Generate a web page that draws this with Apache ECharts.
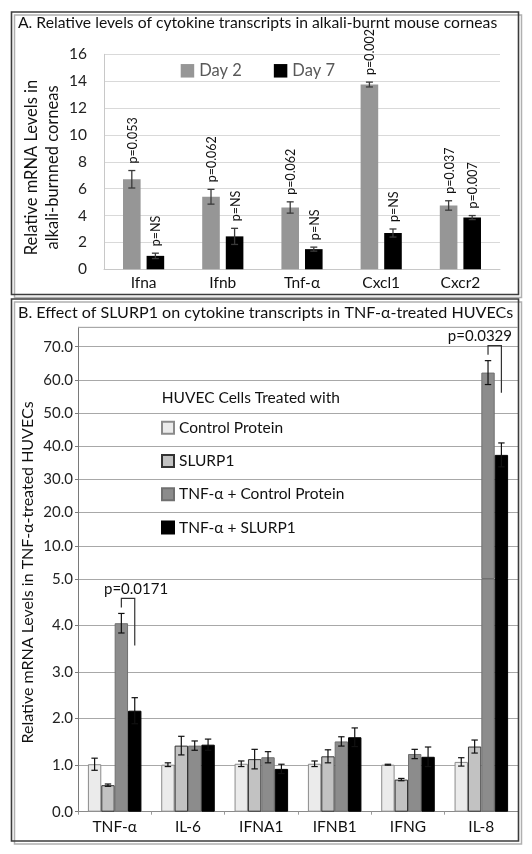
<!DOCTYPE html>
<html><head><meta charset="utf-8">
<script src="https://cdn.jsdelivr.net/npm/echarts@6/dist/echarts.min.js"></script>
<style>html,body{margin:0;padding:0;background:#fff}#c{width:532px;height:854px}</style>
</head><body><div id="c"></div>
<script>
const FONT = 'Lato, "Open Sans", sans-serif';

// ---------- Panel A data ----------
const catsA = ['Ifna', 'Ifnb', 'Tnf-\u03b1', 'Cxcl1', 'Cxcr2'];
const seriesA = ['Day 2', 'Day 7'];
const day2 = [6.7, 5.4, 4.6, 13.75, 4.75];
const day2Err = [0.65, 0.55, 0.42, 0.18, 0.35];
const day7 = [1.0, 2.45, 1.5, 2.7, 3.85];
const day7Err = [0.2, 0.6, 0.15, 0.3, 0.15];
const day2P = ['p=0.053', 'p=0.062', 'p=0.062', 'p=0.002', 'p=0.037'];
const day7P = ['p=NS', 'p=NS', 'p=NS', 'p=NS', 'p=0.007'];
const ticksA = [0, 2, 4, 6, 8, 10, 12, 14, 16];

// ---------- Panel B data ----------
const catsB = ['TNF-\u03b1', 'IL-6', 'IFNA1', 'IFNB1', 'IFNG', 'IL-8'];
const seriesB = ['Control Protein', 'SLURP1', 'TNF-\u03b1 + Control Protein', 'TNF-\u03b1 + SLURP1'];
const ctrl = [1.02, 1.01, 1.03, 1.03, 1.01, 1.07];
const ctrlErr = [0.13, 0.04, 0.06, 0.06, 0.01, 0.09];
const slurp = [0.57, 1.42, 1.13, 1.19, 0.69, 1.40];
const slurpErr = [0.025, 0.2, 0.21, 0.14, 0.025, 0.14];
const tnfCtrl = [4.05, 1.42, 1.17, 1.51, 1.24, 62.2];
const tnfCtrlErr = [0.21, 0.1, 0.12, 0.1, 0.1, 3.6];
const tnfSlurp = [2.17, 1.44, 0.92, 1.6, 1.18, 37.4];
const tnfSlurpErr = [0.28, 0.12, 0.1, 0.2, 0.21, 3.6];
const ticksBLow = [0, 1, 2, 3, 4, 5];
const ticksBHigh = [10, 20, 30, 40, 50, 60, 70];
const bracketCats = [0, 5];
const bracketP = ['p=0.0171', 'p=0.0329'];

const valsB = [ctrl, slurp, tnfCtrl, tnfSlurp];
const errsB = [ctrlErr, slurpErr, tnfCtrlErr, tnfSlurpErr];
const BREAK = ticksBLow[ticksBLow.length - 1];

// ---------- layout ----------
const GA = {left: 104, top: 54.3, width: 396, height: 215};
const GBlow = {left: 78, top: 579, width: 440, height: 232.7};
const GBup = {left: 78, top: 327.3, width: 440, height: 251.7};
const upPxPerUnit = (GBlow.top - 346.7) / 70;
const upMax = GBup.height / upPxPerUnit;

const CATGAP_A = 0.48, GAP_A = 0.34, CATGAP_B = 0.27, GAP_B = 0;
const colorsA = ['#969696', '#000000'];
const colorsB = ['#ebebeb', '#c2c2c2', '#8c8c8c', '#000000'];
const bordersB = ['#8a8a8a', '#333333', '#707070', '#000000'];

function barOffset(band, n, catGap, gap, i) {
  const w = band * (1 - catGap) / (n + (n - 1) * gap);
  const total = n * w + (n - 1) * gap * w;
  return -total / 2 + i * w * (1 + gap) + w / 2;
}

function makeErrSeries(items, labels, opts) {
  return {
    type: 'custom', xAxisIndex: opts.axis, yAxisIndex: opts.axis, z: 5, silent: true,
    data: items,
    encode: {x: 0, y: 1},
    renderItem: function (params, api) {
      const cat = api.value(0), val = api.value(1), err = api.value(2), idx = api.value(3);
      const band = api.size([1, 0])[0];
      const x = api.coord([cat, val])[0] + barOffset(band, opts.n, opts.catGap, opts.gap, idx);
      const yT = api.coord([cat, val + err])[1];
      const yB = api.coord([cat, val - err])[1];
      const st = {stroke: opts.color, lineWidth: opts.lw};
      const ch = [
        {type: 'line', shape: {x1: x, y1: yT, x2: x, y2: yB}, style: st},
        {type: 'line', shape: {x1: x - opts.cap, y1: yT, x2: x + opts.cap, y2: yT}, style: st},
        {type: 'line', shape: {x1: x - opts.cap, y1: yB, x2: x + opts.cap, y2: yB}, style: st}
      ];
      if (labels) {
        ch.push({type: 'text', x: x + 1, y: yT - 7, rotation: Math.PI / 2,
          style: {text: labels[params.dataIndex], textAlign: 'left', textVerticalAlign: 'middle',
            fontSize: 12.5, fontFamily: FONT, fill: '#111'}});
      }
      return {type: 'group', children: ch};
    }
  };
}

// Panel A error items
const errItemsA = [], labelsA = [];
[day2, day7].forEach(function (arr, s) {
  const e = [day2Err, day7Err][s], p = [day2P, day7P][s];
  arr.forEach(function (v, i) { errItemsA.push([i, v, e[i], s]); labelsA.push(p[i]); });
});

// Panel B error items split by axis break
const errLow = [], errUp = [];
valsB.forEach(function (arr, s) {
  arr.forEach(function (v, i) {
    (v > BREAK ? errUp : errLow).push([i, v, errsB[s][i], s]);
  });
});

function bracketSeries(axis, cats) {
  return {
    type: 'custom', xAxisIndex: axis, yAxisIndex: axis, z: 6, silent: true,
    data: cats.map(function (c) { return [c, 0]; }),
    encode: {x: 0, y: 1},
    renderItem: function (params, api) {
      const cat = api.value(0);
      const k = bracketCats.indexOf(cat);
      const band = api.size([1, 0])[0];
      const cx = api.coord([cat, 0])[0];
      const xl = cx + barOffset(band, 4, CATGAP_B, GAP_B, 2);
      const xr = cx + barOffset(band, 4, CATGAP_B, GAP_B, 3);
      const yl = api.coord([cat, tnfCtrl[cat] + tnfCtrlErr[cat]])[1];
      const yTop = yl - 15;
      const right = params.coordSys.x + params.coordSys.width - 6;
      let tx = (xl + xr) / 2 + 8, align = 'center';
      if (tx + 32 > right) { tx = right; align = 'right'; }
      return {type: 'group', children: [
        {type: 'polyline', shape: {points: [[xl, yTop + 9], [xl, yTop], [xr, yTop], [xr, yTop + 47]]},
          style: {stroke: '#333', lineWidth: 1.2, fill: null}},
        {type: 'text', x: tx, y: yTop - 9, style: {text: bracketP[k], textAlign: align,
          textVerticalAlign: 'middle', fontSize: 15, fontFamily: FONT, fill: '#111'}}
      ]};
    }
  };
}

const chart = echarts.init(document.getElementById('c'), null, {renderer: 'canvas'});

const seriesList = [];
// Panel A bars
[day2, day7].forEach(function (arr, s) {
  seriesList.push({type: 'bar', name: seriesA[s], xAxisIndex: 0, yAxisIndex: 0, data: arr,
    barCategoryGap: (CATGAP_A * 100) + '%', barGap: (GAP_A * 100) + '%',
    itemStyle: {color: colorsA[s]}});
});
seriesList.push(makeErrSeries(errItemsA, labelsA, {axis: 0, n: 2, catGap: CATGAP_A, gap: GAP_A, color: '#3a3a3a', lw: 1.3, cap: 3.5}));
// Panel B lower bars
valsB.forEach(function (arr, s) {
  seriesList.push({type: 'bar', name: seriesB[s], xAxisIndex: 1, yAxisIndex: 1, data: arr, clip: true,
    barCategoryGap: (CATGAP_B * 100) + '%', barGap: '0%',
    itemStyle: {color: colorsB[s], borderColor: bordersB[s], borderWidth: 1}});
});
// Panel B upper bars (only values above the axis break)
valsB.forEach(function (arr, s) {
  seriesList.push({type: 'bar', name: seriesB[s], xAxisIndex: 2, yAxisIndex: 2,
    data: arr.map(function (v) { return v > BREAK ? v : '-'; }),
    barCategoryGap: (CATGAP_B * 100) + '%', barGap: '0%',
    itemStyle: {color: colorsB[s], borderColor: bordersB[s], borderWidth: 1}});
});
seriesList.push(makeErrSeries(errLow, null, {axis: 1, n: 4, catGap: CATGAP_B, gap: GAP_B, color: '#111', lw: 1.2, cap: 3.2}));
seriesList.push(makeErrSeries(errUp, null, {axis: 2, n: 4, catGap: CATGAP_B, gap: GAP_B, color: '#111', lw: 1.2, cap: 3.2}));
seriesList.push(bracketSeries(1, bracketCats.filter(function (c) { return tnfCtrl[c] <= BREAK; })));
seriesList.push(bracketSeries(2, bracketCats.filter(function (c) { return tnfCtrl[c] > BREAK; })));

const option = {
  animation: false,
  backgroundColor: '#fff',
  textStyle: {fontFamily: FONT},
  grid: [
    Object.assign({containLabel: false}, GA),
    Object.assign({containLabel: false}, GBlow),
    Object.assign({containLabel: false}, GBup)
  ],
  legend: [
    {data: seriesA, left: 180.7, top: 62.3, padding: 0, icon: 'rect', itemWidth: 13.5, itemHeight: 13.5, itemGap: 32,
      textStyle: {fontSize: 16.5, color: '#595959', fontFamily: FONT}, selectedMode: false},
    {data: seriesB, orient: 'vertical', left: 161, top: 419.7, padding: 0, icon: 'rect', itemWidth: 12, itemHeight: 12,
      itemGap: 17.3, textStyle: {fontSize: 15.5, color: '#111', fontFamily: FONT}, selectedMode: false}
  ],
  xAxis: [
    {type: 'category', gridIndex: 0, data: catsA,
      axisLine: {lineStyle: {color: '#c8c8c8', width: 1}}, axisTick: {show: false},
      axisLabel: {fontSize: 15.5, color: '#111', margin: 6, fontFamily: FONT}},
    {type: 'category', gridIndex: 1, data: catsB,
      axisLine: {lineStyle: {color: '#8a8a8a', width: 1}},
      axisTick: {show: true, length: 3, lineStyle: {color: '#9a9a9a'}},
      axisLabel: {fontSize: 15.5, color: '#111', margin: 7, fontFamily: FONT}},
    {type: 'category', gridIndex: 2, data: catsB, show: false}
  ],
  yAxis: [
    {type: 'value', gridIndex: 0, min: ticksA[0], max: ticksA[ticksA.length - 1], interval: ticksA[1] - ticksA[0],
      axisLine: {show: true, lineStyle: {color: '#c8c8c8'}}, axisTick: {show: false},
      splitLine: {lineStyle: {color: '#d9d9d9', width: 1}},
      axisLabel: {fontSize: 15.5, color: '#222', margin: 17, fontFamily: FONT}},
    {type: 'value', gridIndex: 1, min: ticksBLow[0], max: BREAK, interval: ticksBLow[1] - ticksBLow[0],
      axisLine: {show: true, lineStyle: {color: '#7a7a7a'}}, axisTick: {show: true, length: 3, lineStyle: {color: '#7a7a7a'}},
      splitLine: {lineStyle: {color: '#a8a8a8', width: 1}},
      axisLabel: {fontSize: 15, color: '#222', margin: 5, fontFamily: FONT,
        formatter: function (v) { return v.toFixed(1); }}},
    {type: 'value', gridIndex: 2, min: 0, max: upMax, interval: ticksBHigh[1] - ticksBHigh[0],
      axisLine: {show: true, lineStyle: {color: '#7a7a7a'}}, axisTick: {show: true, length: 3, lineStyle: {color: '#7a7a7a'}},
      splitLine: {lineStyle: {color: '#a8a8a8', width: 1}},
      axisLabel: {fontSize: 15, color: '#222', margin: 5, fontFamily: FONT, showMaxLabel: false,
        formatter: function (v) { return ticksBHigh.indexOf(Math.round(v * 1000) / 1000) >= 0 ? v.toFixed(1) : ''; }}}
  ],
  series: seriesList,
  graphic: [
    // panel frames with shadow
    {type: 'rect', shape: {x: 14.5, y: 15, width: 507, height: 282.5}, style: {fill: null, stroke: '#b0b0b0', lineWidth: 1.5}, z: 0},
    {type: 'rect', shape: {x: 14.5, y: 302, width: 507, height: 542}, style: {fill: null, stroke: '#b0b0b0', lineWidth: 1.5}, z: 0},
    {type: 'rect', shape: {x: 11.5, y: 12, width: 507, height: 282.5}, style: {fill: null, stroke: '#3c3c3c', lineWidth: 1.6}, z: 1},
    {type: 'rect', shape: {x: 11.5, y: 299, width: 507, height: 542}, style: {fill: null, stroke: '#3c3c3c', lineWidth: 1.6}, z: 1},
    // titles
    {type: 'text', x: 18, y: 23, style: {text: 'A. Relative levels of cytokine transcripts in alkali-burnt mouse corneas',
      textVerticalAlign: 'middle', fontSize: 15.7, fontFamily: FONT, fill: '#111'}},
    {type: 'text', x: 18, y: 313, style: {text: 'B. Effect of SLURP1 on cytokine transcripts in TNF-\u03b1-treated HUVECs',
      textVerticalAlign: 'middle', fontSize: 16.1, fontFamily: FONT, fill: '#111'}},
    // axis titles
    {type: 'text', x: 42.5, y: 167.5, rotation: Math.PI / 2, style: {text: 'Relative mRNA Levels in\nalkali-burnned corneas',
      textAlign: 'center', textVerticalAlign: 'middle', fontSize: 16.5, lineHeight: 21, fontFamily: FONT, fill: '#111'}},
    {type: 'text', x: 28, y: 572.5, rotation: Math.PI / 2, style: {text: 'Relative mRNA Levels in TNF-\u03b1-treated HUVECs',
      textAlign: 'center', textVerticalAlign: 'middle', fontSize: 16, fontFamily: FONT, fill: '#111'}},
    // legend header
    {type: 'text', x: 161.7, y: 398, style: {text: 'HUVEC Cells Treated with', textVerticalAlign: 'middle',
      fontSize: 15.5, fontFamily: FONT, fill: '#111'}},
    // plot frame of panel B (top)
    {type: 'polyline', shape: {points: [[78, 327.3], [518, 327.3]]}, style: {stroke: '#a8a8a8', lineWidth: 1}, z: 2}
  ]
};
chart.setOption(option);
</script>
</body></html>
